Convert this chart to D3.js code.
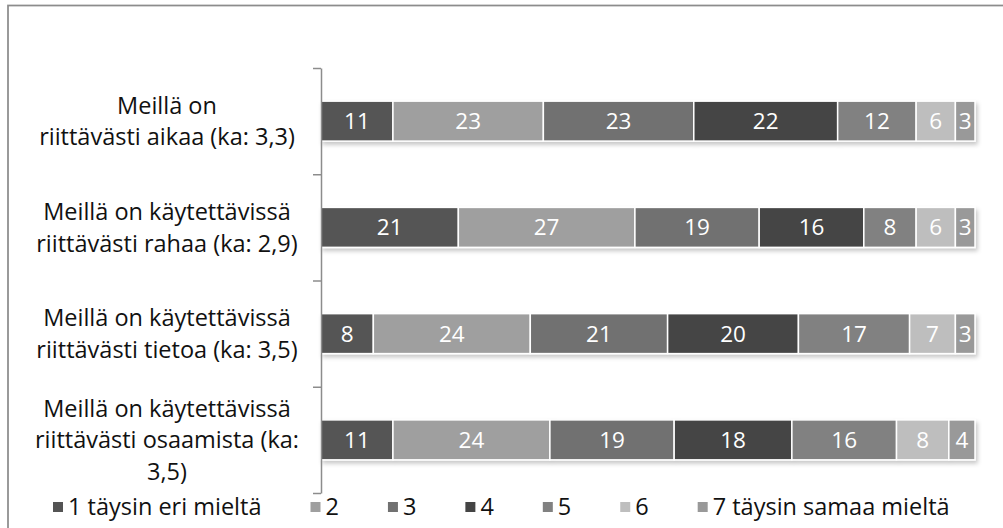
<!DOCTYPE html>
<html>
<head>
<meta charset="utf-8">
<script src="https://cdn.jsdelivr.net/npm/d3@7/dist/d3.min.js"></script>
<style>
  html, body { margin: 0; padding: 0; background: #fff; }
  svg { display: block; font-family: "Open Sans", "Noto Sans", sans-serif; font-variant-ligatures: none; }
</style>
</head>
<body>
<svg id="chart" width="1003" height="528"></svg>
<script>
// Statement labels (line breaks as shown on the axis)
const categories = [
  "Meillä on\nriittävästi aikaa (ka: 3,3)",
  "Meillä on käytettävissä\nriittävästi rahaa (ka: 2,9)",
  "Meillä on käytettävissä\nriittävästi tietoa (ka: 3,5)",
  "Meillä on käytettävissä\nriittävästi osaamista (ka:\n3,5)"
];

// Answer scale (legend entries)
const seriesNames = ["1 täysin eri mieltä", "2", "3", "4", "5", "6", "7 täysin samaa mieltä"];

// Percentage shares per answer option, one value per statement
const s1 = [11, 21, 8, 11];
const s2 = [23, 27, 24, 24];
const s3 = [23, 19, 21, 19];
const s4 = [22, 16, 20, 18];
const s5 = [12, 8, 17, 16];
const s6 = [6, 6, 7, 8];
const s7 = [3, 3, 3, 4];

const seriesColors = ["#545454", "#9f9f9f", "#717171", "#444444", "#818181", "#bebebe", "#999999"];

const seriesValues = [s1, s2, s3, s4, s5, s6, s7];
const rows = categories.map((c, i) => {
  const r = { category: c };
  seriesNames.forEach((s, k) => { r[s] = seriesValues[k][i]; });
  return r;
});

const svg = d3.select("#chart");

// Outer frame
svg.append("rect")
  .attr("x", 8).attr("y", 5.5)
  .attr("width", 1010).attr("height", 540)
  .attr("fill", "none").attr("stroke", "#8c8c8c").attr("stroke-width", 1.75);

const plotLeft = 321, plotRight = 975, plotTop = 68, plotBottom = 493;

const x = d3.scaleLinear().domain([0, 100]).range([plotLeft, plotRight]);
const y = d3.scaleBand().domain(categories).range([plotTop, plotBottom])
  .paddingInner(0.624).paddingOuter(0.312);

// Soft shadow beneath the bars
const defs = svg.append("defs");
const f = defs.append("filter").attr("id", "barShadow")
  .attr("x", "-5%").attr("y", "-30%").attr("width", "110%").attr("height", "170%");
f.append("feDropShadow").attr("dx", 2).attr("dy", 3).attr("stdDeviation", 2)
  .attr("flood-color", "#000").attr("flood-opacity", 0.22);

const stack = d3.stack().keys(seriesNames)(rows);

const barsG = svg.append("g").attr("filter", "url(#barShadow)");
stack.forEach((layer, k) => {
  barsG.append("g")
    .attr("fill", seriesColors[k])
    .selectAll("rect")
    .data(layer)
    .join("rect")
      .attr("x", d => x(d[0]))
      .attr("y", d => y(d.data.category))
      .attr("width", d => x(d[1]) - x(d[0]))
      .attr("height", y.bandwidth())
      .attr("stroke", "#fff")
      .attr("stroke-width", 1.5);
});

// Value labels inside segments
const labelsG = svg.append("g");
stack.forEach((layer, k) => {
  labelsG.append("g")
    .selectAll("text")
    .data(layer)
    .join("text")
      .attr("x", d => (x(d[0]) + x(d[1])) / 2)
      .attr("y", d => y(d.data.category) + y.bandwidth() / 2)
      .attr("dy", "0.36em")
      .attr("text-anchor", "middle")
      .attr("fill", "#fff")
      .attr("font-size", 22.5)
      .text(d => d[1] - d[0]);
});

// Category axis with ticks between the bars
const yTicks = d3.scaleLinear().domain([0, categories.length]).range([plotTop, plotBottom]);
const axis = svg.append("g")
  .attr("transform", `translate(${plotLeft},0)`)
  .call(d3.axisLeft(yTicks).tickValues(d3.range(categories.length + 1))
    .tickSize(8).tickSizeOuter(0).tickFormat(""));
axis.selectAll("path, line").attr("stroke", "#8c8c8c").attr("stroke-width", 1.5);

// Category labels
const lineH = 31.5;
svg.append("g").selectAll("text")
  .data(categories)
  .join("text")
    .attr("text-anchor", "middle")
    .attr("font-size", 23.5)
    .attr("fill", "#111")
    .each(function(c) {
      const lines = c.split("\n");
      const cy = y(c) + y.bandwidth() / 2;
      const t = d3.select(this);
      lines.forEach((ln, i) => {
        t.append("tspan")
          .attr("x", 167)
          .attr("y", cy + (i - (lines.length - 1) / 2) * lineH)
          .attr("dy", "0.36em")
          .text(ln);
      });
    });

// Legend
const legend = svg.append("g");
let lx = 53;
const legendY = 507;
seriesNames.forEach((name, k) => {
  const g = legend.append("g").attr("transform", `translate(${lx},0)`);
  g.append("rect").attr("x", 0).attr("y", legendY - 5).attr("width", 10).attr("height", 10)
    .attr("fill", seriesColors[k]);
  const t = g.append("text").attr("x", 15).attr("y", legendY).attr("dy", "0.36em")
    .attr("font-size", 23.5).attr("fill", "#111").text(name);
  lx += 15 + t.node().getComputedTextLength() + 49;
});
</script>
</body>
</html>
